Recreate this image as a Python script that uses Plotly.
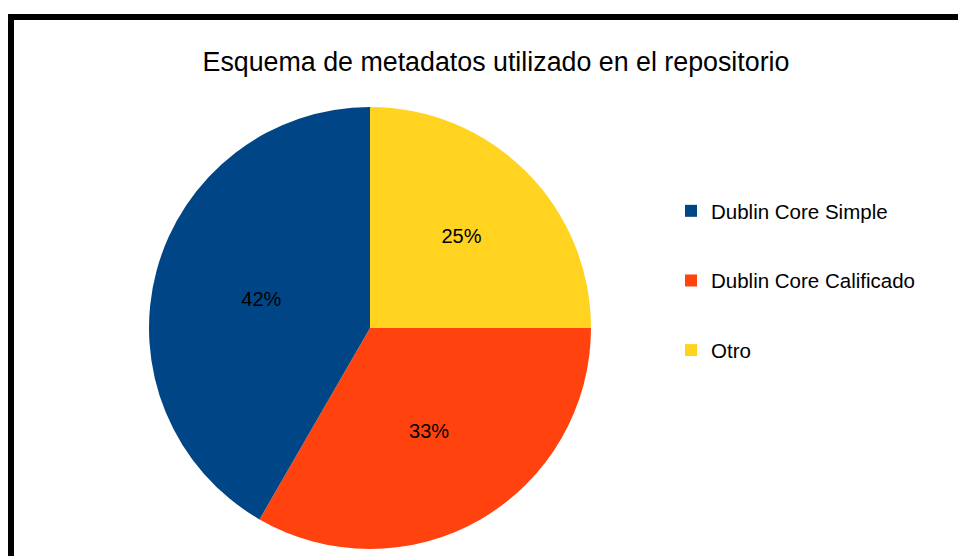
import plotly.graph_objects as go

title = "Esquema de metadatos utilizado en el repositorio"
labels = ["Dublin Core Simple", "Dublin Core Calificado", "Otro"]
values = [5, 4, 3]
colors = ["#004586", "#ff420e", "#ffd320"]

W, H = 966, 556
OFF = 8  # page body margin offset
fig = go.Figure()

cx, cy, r = 370 - OFF, 328 - OFF, 221
# slices drawn clockwise from 12 o'clock: Otro, Calificado, Simple
fig.add_trace(go.Pie(
    labels=labels[::-1], values=values[::-1], sort=False, direction="clockwise", rotation=0,
    marker=dict(colors=colors[::-1], line=dict(width=0)),
    texttemplate="%{percent:.0%}", textposition="inside", insidetextorientation="horizontal",
    textfont=dict(family="Liberation Sans, Arial, sans-serif", size=20, color="black"),
    domain=dict(x=[(cx - r) / W, (cx + r) / W], y=[1 - (cy + r) / H, 1 - (cy - r) / H]),
    showlegend=False, hoverinfo="label+percent",
))

# legend entries (one per category)
for lab, col in zip(labels, colors):
    fig.add_trace(go.Scatter(
        x=[None], y=[None], mode="markers", name=lab, legendgroup=lab,
        marker=dict(symbol="square", size=12, color=col),
    ))

fig.update_layout(
    width=W, height=H,
    margin=dict(l=0, r=0, t=0, b=0),
    paper_bgcolor="white", plot_bgcolor="white",
    title=dict(text=title, x=(496 - OFF) / W, xanchor="center", y=1 - (62 - OFF) / H, yanchor="middle",
               font=dict(family="Liberation Sans, Arial, sans-serif", size=26.8, color="black")),
    xaxis=dict(visible=False), yaxis=dict(visible=False),
    legend=dict(x=663 / W, xanchor="left", y=1 - 183 / H, yanchor="top",
                font=dict(family="Liberation Sans, Arial, sans-serif", size=20.5, color="black"),
                tracegroupgap=40, traceorder="grouped", itemclick=False),
    shapes=[
        dict(type="line", xref="paper", yref="paper", x0=0, x1=1.01, y0=1 - 9 / H, y1=1 - 9 / H,
             line=dict(color="black", width=6)),
        dict(type="line", xref="paper", yref="paper", x0=3 / W, x1=3 / W, y0=1 - 6 / H, y1=-0.01,
             line=dict(color="black", width=6)),
    ],
)

fig.write_html("out.html")
